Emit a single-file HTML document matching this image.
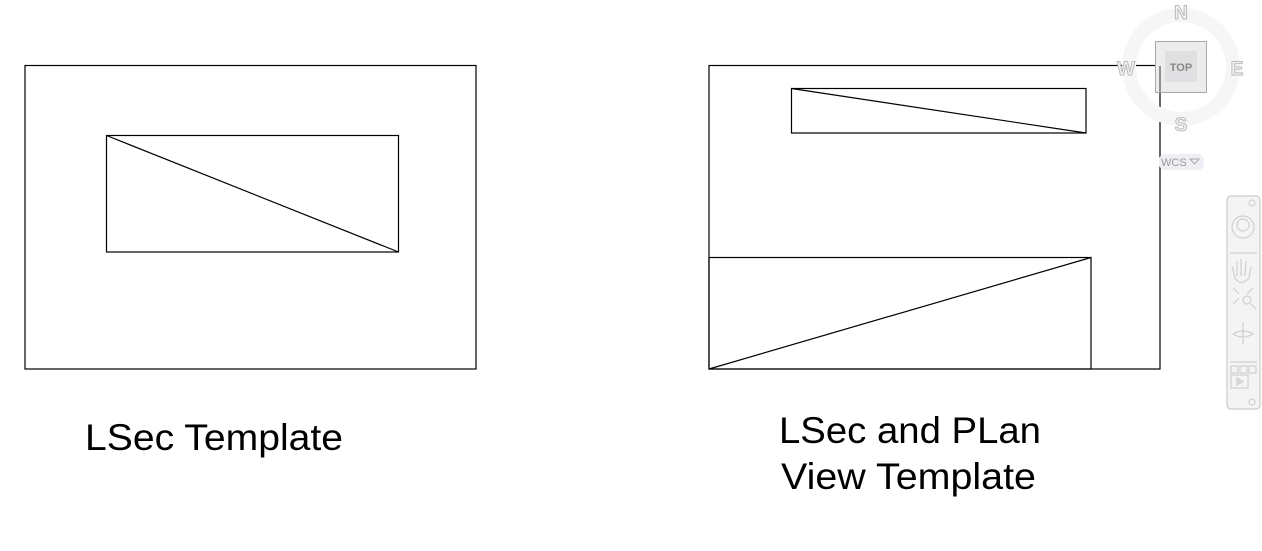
<!DOCTYPE html>
<html><head><meta charset="utf-8"><style>
html,body{margin:0;padding:0;background:#fff;width:1262px;height:551px;overflow:hidden}
svg{display:block}
</style></head><body>
<svg width="1262" height="551" viewBox="0 0 1262 551" font-family="Liberation Sans, sans-serif">
<g stroke="#000" stroke-width="1.2" fill="none">
<rect x="25" y="65.5" width="451" height="303.5"/>
<rect x="106.5" y="135.5" width="292" height="116.5"/>
<line x1="106.5" y1="135.5" x2="398.5" y2="252"/>
</g>
<g stroke="#000" stroke-width="1.2" fill="none">
<rect x="709" y="65.5" width="451" height="303.5"/>
<rect x="791.5" y="88.5" width="294.5" height="44.5"/>
<line x1="791.5" y1="88.5" x2="1086" y2="133"/>
<rect x="709" y="257.5" width="382" height="111.5"/>
<line x1="709" y1="369" x2="1091" y2="257.5"/>
</g>
<text x="85" y="450" font-size="37" textLength="258" lengthAdjust="spacingAndGlyphs" fill="#000">LSec Template</text>
<text x="779" y="443" font-size="37" textLength="262" lengthAdjust="spacingAndGlyphs" fill="#000">LSec and PLan</text>
<text x="781" y="489" font-size="37" textLength="255" lengthAdjust="spacingAndGlyphs" fill="#000">View Template</text>
<g>
<circle cx="1181" cy="67" r="52" fill="none" stroke="#f6f6f6" stroke-width="14"/>
<rect x="1155.5" y="41.5" width="51" height="51" fill="#ececec" stroke="#a8a8a8"/>
<rect x="1165" y="51" width="32" height="31" fill="#e0e0e2"/>
<line x1="1160" y1="66" x2="1160" y2="92" stroke="#555" stroke-width="1.2"/>
<text x="1181" y="71" font-size="11" font-weight="bold" fill="#888" text-anchor="middle">TOP</text>
<g font-size="19" font-weight="bold" fill="#f4f4f4" stroke="#bbb" stroke-width="1" text-anchor="middle">
<text x="1181" y="19">N</text>
<text x="1181" y="131">S</text>
<text x="1237" y="75">E</text>
<text x="1126" y="75">W</text>
</g>
<rect x="1159" y="154" width="45" height="16" rx="6" fill="#eeeef5"/>
<text x="1161" y="166" font-size="11" fill="#999">WCS</text>
<path d="M1190 159 L1199 159 L1194.5 164 Z" fill="none" stroke="#aaa"/>
</g>
<g stroke="#d0d0d0" fill="none" stroke-width="1.2">
<rect x="1227" y="196" width="33" height="213" rx="4" fill="#f4f4f4" stroke="#ccc"/>
<circle cx="1252" cy="203" r="3"/>
<circle cx="1243" cy="227" r="11"/>
<circle cx="1243" cy="225" r="6"/>
<line x1="1230" y1="253" x2="1257" y2="253"/>
<path d="M1235 278 L1232 266 M1237 276 L1237 261 M1241 276 L1241 259 M1245 276 L1246 261 M1249 278 L1251 267 M1235 278 Q1241 287 1249 278"/>
<path d="M1233 288 L1239 294 M1253 288 L1247 294 M1233 304 L1239 298"/>
<circle cx="1247" cy="300" r="4"/>
<path d="M1251 304 L1256 309"/>
<path d="M1243 322 L1243 344 M1233 334 Q1243 328 1253 334 Q1243 340 1233 334"/>
<line x1="1230" y1="362" x2="1257" y2="362"/>
<rect x="1231" y="366" width="7" height="7"/>
<rect x="1240" y="366" width="7" height="7"/>
<rect x="1249" y="366" width="7" height="7"/>
<rect x="1231" y="375" width="17" height="13"/>
<path d="M1237 378 L1243 381.5 L1237 385 Z" fill="#ddd"/>
<circle cx="1252" cy="402" r="3"/>
</g>
</svg>
</body></html>
